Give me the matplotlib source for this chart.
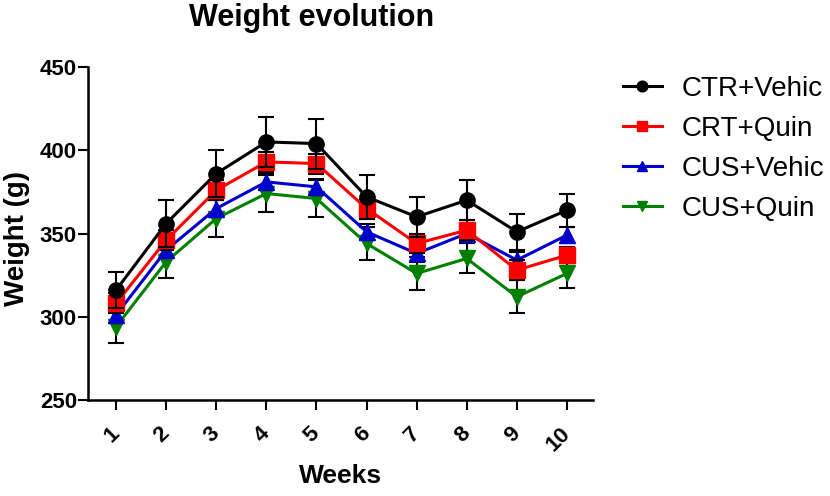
import matplotlib
matplotlib.use("Agg")
import matplotlib.pyplot as plt
import numpy as np

plt.rcParams['font.family'] = ['Liberation Sans', 'DejaVu Sans']

weeks = [1, 2, 3, 4, 5, 6, 7, 8, 9, 10]
week_labels = ["1", "2", "3", "4", "5", "6", "7", "8", "9", "10"]

ctr_vehic = [316, 356, 386, 405, 404, 372, 360, 370, 351, 364]
ctr_vehic_err = [11, 14, 14, 15, 15, 13, 12, 12, 11, 10]
crt_quin = [308, 346, 376, 393, 392, 365, 344, 352, 328, 337]
crt_quin_err = [6, 6, 6, 6, 6, 6, 6, 6, 6, 5]
cus_vehic = [301, 340, 365, 381, 378, 351, 338, 350, 334, 349]
cus_vehic_err = [5, 5, 5, 5, 5, 5, 5, 5, 5, 5]
cus_quin = [294, 333, 359, 374, 371, 344, 326, 335, 312, 326]
cus_quin_err = [10, 10, 11, 11, 11, 10, 10, 9, 10, 9]

series = [
    ("CTR+Vehic", ctr_vehic, ctr_vehic_err, "black", "o"),
    ("CRT+Quin", crt_quin, crt_quin_err, "#ff0000", "s"),
    ("CUS+Vehic", cus_vehic, cus_vehic_err, "#0000cc", "^"),
    ("CUS+Quin", cus_quin, cus_quin_err, "#008000", "v"),
]

W, H = 830, 496
fig = plt.figure(figsize=(W / 100, H / 100), dpi=100)
ax = fig.add_axes([88 / W, 1 - 400 / H, (593 - 88) / W, (400 - 67) / H])

handles = []
for i, (name, vals, errs, col, mk) in reversed(list(enumerate(series))):
    ax.errorbar(weeks, vals, yerr=errs, fmt='none', ecolor='black',
                elinewidth=1.5, capsize=6, capthick=1.5, zorder=2 + (4 - i))
    h, = ax.plot(weeks, vals, color=col, marker=mk, markersize=11,
                 linewidth=2.2, label=name, zorder=3 + (4 - i))
    handles.append(h)
handles = handles[::-1]

ax.set_xlim(0.44, 10.52)
ax.set_ylim(250, 450)
ax.set_yticks([250, 300, 350, 400, 450])
ax.set_xticks(weeks)
ax.set_xticklabels(week_labels, rotation=45, ha='right', va='center',
                   rotation_mode='anchor', fontweight='bold', fontsize=16)
for lbl in ax.get_yticklabels():
    lbl.set_fontweight('bold')
    lbl.set_fontsize(16)

for s in ['top', 'right']:
    ax.spines[s].set_visible(False)
for s in ['left', 'bottom']:
    ax.spines[s].set_linewidth(1.8)
ax.tick_params(axis='both', direction='out', width=1.5, length=7)
ax.tick_params(axis='y', pad=1)
ax.tick_params(axis='x', pad=15)

fig.text(312 / W, 1 - 18 / H, "Weight evolution", fontsize=22, fontweight='bold',
         ha='center', va='center')
ax.set_xlabel("Weeks", fontsize=19, fontweight='bold')
ax.xaxis.label.set_va('center')
ax.xaxis.set_label_coords(0.5, (400 - 476) / 333)
ax.set_ylabel("Weight (g)", fontsize=20, fontweight='bold')
ax.yaxis.label.set_va('center')
ax.yaxis.set_label_coords((17 - 88) / 505, (400 - 239) / 333)

leg = fig.legend(handles=handles, loc='upper left', bbox_to_anchor=(623 / W, 1 - 76 / H),
                 frameon=False, fontsize=20, markerscale=0.7, handlelength=1.4,
                 handletextpad=0.7, labelspacing=0.5, borderaxespad=0, borderpad=0)

fig.savefig("out.png", dpi=100)
